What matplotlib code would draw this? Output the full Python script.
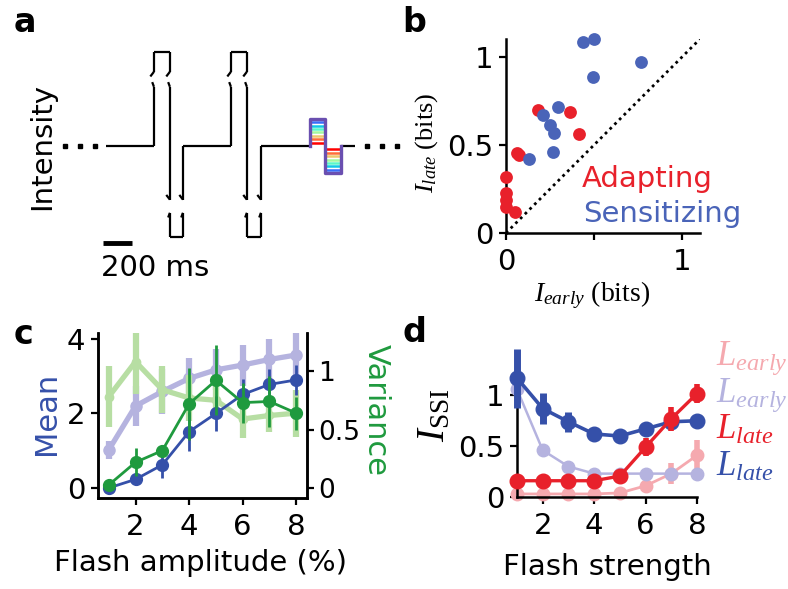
import matplotlib
matplotlib.use("Agg")
import matplotlib.pyplot as plt

W, H = 788, 589

# ---- panel a: stimulus schematic (time in ms, intensity in arbitrary units)
pulse_on = [331, 862]
pulse_flip = [441, 972]
pulse_off = [531, 1069]
pulse_hi, pulse_lo = 1.0, -0.97
gap_hi = (0.63, 0.79)
gap_lo = (-0.71, -0.57)
flash_on, flash_flip, flash_off, trace_end = 1407, 1510, 1621, 1717
flash_pct = [1, 2, 3, 4, 5, 6, 7, 8]
dots_left = [-283, -179, -76]
dots_right = [1800, 1903, 2007]

# ---- panel b: information early vs late (bits)
adapt_early = [0.0, 0.0, 0.0, 0.0, 0.05, 0.061, 0.074, 0.184, 0.364, 0.415]
adapt_late = [0.318, 0.224, 0.186, 0.149, 0.12, 0.454, 0.44, 0.70, 0.685, 0.559]
sens_early = [0.132, 0.209, 0.297, 0.25, 0.274, 0.269, 0.439, 0.50, 0.496, 0.767]
sens_late = [0.422, 0.67, 0.717, 0.61, 0.567, 0.46, 1.081, 1.10, 0.887, 0.968]

# ---- panel c: mean / variance vs flash amplitude
amp = [1, 2, 3, 4, 5, 6, 7, 8]
mean_late = [0.0, 0.23, 0.62, 1.51, 2.0, 2.51, 2.78, 2.9]
mean_late_err = [0.08, 0.15, 0.36, 0.52, 0.47, 0.42, 0.42, 0.4]
mean_early = [1.02, 2.2, 2.59, 2.94, 3.17, 3.3, 3.45, 3.57]
mean_early_err = [0.25, 0.55, 0.6, 0.55, 0.55, 0.55, 0.55, 0.62]
var_early = [0.78, 1.08, 0.84, 0.77, 0.75, 0.59, 0.62, 0.64]
var_early_err = [0.26, 0.28, 0.2, 0.2, 0.12, 0.16, 0.14, 0.2]
var_late = [0.026, 0.22, 0.32, 0.72, 0.92, 0.73, 0.74, 0.64]
var_late_err = [0.02, 0.12, 0.05, 0.31, 0.3, 0.17, 0.22, 0.14]

# ---- panel d: I_SSI vs flash strength
strength = [1, 2, 3, 4, 5, 6, 7, 8]
pink_early = [0.03, 0.03, 0.03, 0.03, 0.04, 0.11, 0.23, 0.41]
pink_early_err = [0, 0, 0, 0, 0, 0.03, 0.1, 0.15]
purple_early = [1.06, 0.46, 0.30, 0.23, 0.23, 0.23, 0.23, 0.23]
purple_early_err = [0.12, 0, 0, 0, 0, 0, 0, 0]
red_late = [0.16, 0.16, 0.16, 0.16, 0.206, 0.49, 0.77, 1.017]
red_late_err = [0.02, 0.02, 0.02, 0.02, 0.03, 0.09, 0.12, 0.09]
blue_late = [1.17, 0.87, 0.74, 0.62, 0.60, 0.67, 0.74, 0.75]
blue_late_err = [0.29, 0.15, 0.1, 0.06, 0.03, 0.03, 0.03, 0.02]

RED = "#e8212b"
BLUE_B = "#4a64b8"
BLUE = "#3550a9"
LPURPLE = "#b5b3df"
PINK = "#f5a9af"
DGREEN = "#1f9a3e"
LGREEN = "#b7dea3"

plt.rcParams["font.family"] = "DejaVu Sans"
plt.rcParams["font.size"] = 21
plt.rcParams["mathtext.fontset"] = "custom"
plt.rcParams["mathtext.rm"] = "Liberation Serif"
plt.rcParams["mathtext.it"] = "Liberation Serif:italic"
plt.rcParams["axes.linewidth"] = 1.8
plt.rcParams["xtick.major.width"] = 1.6
plt.rcParams["ytick.major.width"] = 1.6
plt.rcParams["xtick.major.size"] = 5
plt.rcParams["ytick.major.size"] = 5

fig = plt.figure(figsize=(W / 100, H / 100), dpi=100)


def box(l, t, r, b):
    return [l / W, 1 - b / H, (r - l) / W, (b - t) / H]


def ftext(x, y, s, **kw):
    return fig.text(x / W, 1 - y / H, s, **kw)


def style(ax):
    ax.spines["top"].set_visible(False)
    ax.spines["right"].set_visible(False)
    ax.tick_params(direction="out", pad=4)


# ================= a =================
axa = fig.add_axes(box(60, 40, 410, 250))
axa.set_xlim(-317, 2097)
axa.set_ylim(-1.106, 1.128)
axa.axis("off")
k = dict(color="k", lw=1.6, solid_capstyle="butt")
prev = 0
for on, flip, off in zip(pulse_on, pulse_flip, pulse_off):
    axa.plot([prev, on], [0, 0], **k)
    axa.plot([on, on], [0, gap_hi[0]], **k)
    axa.plot([on, on], [gap_hi[1], pulse_hi], **k)
    axa.plot([on, flip], [pulse_hi, pulse_hi], **k)
    axa.plot([flip, flip], [pulse_hi, gap_hi[1]], **k)
    axa.plot([flip, flip], [gap_hi[0], gap_lo[1]], **k)
    axa.plot([flip, flip], [gap_lo[0], pulse_lo], **k)
    axa.plot([flip, off], [pulse_lo, pulse_lo], **k)
    axa.plot([off, off], [pulse_lo, gap_lo[0]], **k)
    axa.plot([off, off], [gap_lo[1], 0], **k)
    # break hooks
    for xx in (on, flip):
        axa.plot([xx, xx - 25], [gap_hi[1], gap_hi[1] - 0.05], **k)
        axa.plot([xx, xx - 12], [gap_hi[0], gap_hi[0] + 0.05], **k)
    for xx in (flip, off):
        axa.plot([xx, xx - 25], [gap_lo[1], gap_lo[1] + 0.05], **k)
        axa.plot([xx, xx - 12], [gap_lo[0], gap_lo[0] - 0.05], **k)
    prev = off
axa.plot([prev, flash_on], [0, 0], **k)
axa.plot([flash_off, trace_end], [0, 0], **k)
cmap = plt.cm.rainbow
n = len(flash_pct)
for i, p in enumerate(flash_pct):
    a = 0.036 * p
    c = cmap(1 - i / (n - 1))
    lw = 2.4 if i == n - 1 else 1.8
    if i == n - 1:
        c = "#6a4fb0"
    axa.plot([flash_on, flash_on, flash_flip, flash_flip, flash_off, flash_off],
             [0, a, a, -a, -a, 0], color=c, lw=lw, zorder=2 + i)
axa.plot(dots_left, [0] * 3, "s", color="k", ms=3.5)
axa.plot(dots_right, [0] * 3, "s", color="k", ms=3.5)
axa.plot([-21, 179], [-1.03, -1.03], color="k", lw=3.5, solid_capstyle="butt")
ftext(101, 268, "200 ms", ha="left", va="center")
ftext(42, 146, "Intensity", rotation=90, ha="center", va="center")
ftext(14, 22, "a", fontweight="bold", fontsize=24, va="center")

# ================= b =================
axb = fig.add_axes(box(506, 39, 700, 233))
style(axb)
axb.set_xlim(0, 1.1)
axb.set_ylim(0, 1.1)
axb.plot([0, 1.1], [0, 1.1], color="k", lw=2, ls=(0, (1, 1.4)))
axb.scatter(adapt_early, adapt_late, s=85, color=RED, clip_on=False, zorder=3, lw=0)
axb.scatter(sens_early, sens_late, s=85, color=BLUE_B, clip_on=False, zorder=3, lw=0)
axb.set_xticks([0, 0.5, 1])
axb.set_xticklabels(["0", "", "1"])
axb.set_yticks([0, 0.5, 1])
axb.set_yticklabels(["0", "0.5", "1"])
axb.tick_params(axis="x", pad=6)
axb.text(0.392, 0.237, "Adapting", color=RED, transform=axb.transAxes, va="baseline")
axb.text(0.4, 0.057, "Sensitizing", color=BLUE_B, transform=axb.transAxes, va="baseline")
ftext(427, 143, r"$I_{late}$ (bits)", rotation=90, ha="center", va="center",
      family="Liberation Serif", fontsize=19)
ftext(592, 295, r"$I_{early}$ (bits)", ha="center", va="center",
      family="Liberation Serif", fontsize=20)
ftext(402, 22, "b", fontweight="bold", fontsize=24, va="center")

# ================= c =================
axc = fig.add_axes(box(98, 333, 307, 498))
axc.spines["top"].set_visible(False)
axc.tick_params(direction="out", pad=4)
axc.set_xlim(0.6, 8.4)
axc.set_ylim(-0.27, 4.16)
axc2 = axc.twinx()
axc2.spines["top"].set_visible(False)
axc2.set_ylim(-0.085, 1.325)
axc2.tick_params(direction="out", pad=3, labelsize=19)
axc.errorbar(amp, mean_early, yerr=mean_early_err, color=LPURPLE, lw=3.8, elinewidth=4.5,
             marker="o", ms=8, capsize=0, zorder=1)
axc2.errorbar(amp, var_early, yerr=var_early_err, color=LGREEN, lw=3.8, elinewidth=4.5,
              marker="o", ms=6, capsize=0, zorder=1)
# dark mean drawn on the twin axes (in left-axis units) so it sits above the light lines
axc2.errorbar(amp, mean_late, yerr=mean_late_err, color=BLUE, lw=2, elinewidth=2,
              marker="o", ms=8.5, capsize=0, zorder=3, transform=axc.transData)
axc2.errorbar(amp, var_late, yerr=var_late_err, color=DGREEN, lw=2, elinewidth=2,
              marker="o", ms=8.5, capsize=0, zorder=4, clip_on=False)
axc.set_xticks([2, 4, 6, 8])
axc.set_yticks([0, 2, 4])
axc2.set_yticks([0, 0.5, 1])
axc2.set_yticklabels(["0", "0.5", "1"])
axc.tick_params(axis="x", pad=6)
ftext(200, 563, "Flash amplitude (%)", ha="center", va="center")
ftext(46, 413, "Mean", color=BLUE, rotation=90, ha="center", va="center", fontsize=22)
ftext(376, 410, "Variance", color=DGREEN, rotation=270, ha="center", va="center", fontsize=22)
ftext(14, 335, "c", fontweight="bold", fontsize=24, va="center")

# ================= d =================
axd = fig.add_axes(box(517, 375, 697, 497))
style(axd)
axd.set_xlim(1, 8)
axd.set_ylim(0, 1.2)
for y, e, c, lw, elw, ms, z in [
    (pink_early, pink_early_err, PINK, 2.0, 4, 9, 2),
    (purple_early, purple_early_err, LPURPLE, 1.8, 4, 9, 3),
    (blue_late, blue_late_err, BLUE, 2.6, 5, 10.5, 4),
    (red_late, red_late_err, RED, 2.4, 4, 10.5, 5),
]:
    axd.errorbar(strength, y, yerr=e, color=c, lw=lw, elinewidth=elw, marker="o",
                 ms=ms, capsize=0, zorder=z, clip_on=False)
axd.set_xticks([2, 4, 6, 8])
axd.set_yticks([0, 0.5, 1])
axd.set_yticklabels(["0", "0.5", "1"])
axd.tick_params(axis="x", pad=6)
ftext(607, 567, "Flash strength", ha="center", va="center")
ftext(435, 415, r"$I_{\mathrm{SSI}}$", rotation=90, ha="center", va="center",
      family="Liberation Serif", fontsize=28)
lab = dict(ha="left", va="baseline", family="Liberation Serif", fontsize=25)
ftext(716, 365, r"$L_{early}$", color=PINK, **lab)
ftext(716, 402, r"$L_{early}$", color=LPURPLE, **lab)
ftext(716, 439, r"$L_{late}$", color=RED, **lab)
ftext(716, 476, r"$L_{late}$", color=BLUE, **lab)
ftext(402, 333, "d", fontweight="bold", fontsize=24, va="center")

fig.savefig("out.png", dpi=100)
